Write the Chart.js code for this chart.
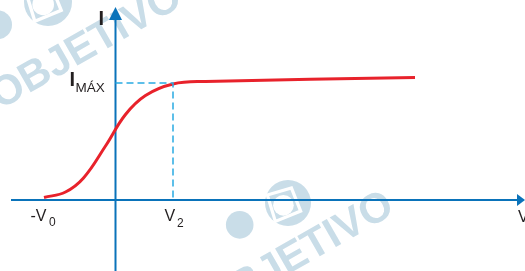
<!DOCTYPE html>
<html>
<head>
<meta charset="utf-8">
<script src="https://cdn.jsdelivr.net/npm/chart.js@4.4.1/dist/chart.umd.min.js"></script>
<style>
  html, body { margin: 0; padding: 0; background: #fff; }
  #wrap { width: 525px; height: 271px; }
</style>
</head>
<body>
<div id="wrap"><canvas id="chart" width="525" height="271"></canvas></div>
<script>
// curve (V, I)
const voltage = [-7.15, -5.0, -3.2, -1.0, 1.0, 3.0, 5.75, 9.0, 29.95];
const current = [0.25, 0.8, 2.2, 5.4, 8.55, 10.45, 11.6, 11.85, 12.25];

// marked values
const V0 = -7.25;
const V2 = 5.75;
const IMAX = 11.7;

// axis ranges
const xRange = [-11.55, 40.95];
const yRange = [-7.1, 20];

const AXIS_BLUE = '#0a73ba';
const DASH_BLUE = '#29abe2';
const MARK = '#c9dde8';

const curve = voltage.map((v, i) => ({ x: v, y: current[i] }));
const guide = [{ x: 0, y: IMAX }, { x: V2, y: IMAX }, { x: V2, y: 0 }];

function watermark(ctx, x, y, angle) {
  ctx.save();
  ctx.translate(x, y);
  ctx.rotate(angle);
  ctx.fillStyle = MARK;
  ctx.font = 'bold 42px "Liberation Sans", Arial, sans-serif';
  ctx.textBaseline = 'alphabetic';
  ctx.fillText('OBJETIVO', 0, 0);
  ctx.restore();
}

function logo(ctx, x, y, r) {
  ctx.save();
  ctx.fillStyle = MARK;
  ctx.beginPath();
  ctx.arc(x, y, r, 0, Math.PI * 2);
  ctx.fill();
  ctx.beginPath();
  ctx.arc(x - r * 2.1, y + r * 0.95, r * 0.6, 0, Math.PI * 2);
  ctx.fill();
  ctx.strokeStyle = '#fff';
  ctx.lineWidth = r * 0.14;
  ctx.beginPath();
  ctx.moveTo(x - r * 0.9, y - r * 0.35);
  ctx.lineTo(x + r * 0.15, y - r * 0.65);
  ctx.lineTo(x + r * 0.55, y + r * 0.35);
  ctx.lineTo(x - r * 0.55, y + r * 0.8);
  ctx.closePath();
  ctx.stroke();
  ctx.fillStyle = '#fff';
  ctx.beginPath();
  ctx.arc(x - r * 0.2, y + r * 0.1, r * 0.45, 0, Math.PI * 2);
  ctx.fill();
  ctx.restore();
}

const decor = {
  id: 'decor',
  beforeDatasetsDraw(chart) {
    const ctx = chart.ctx;
    const xs = chart.scales.x, ys = chart.scales.y;
    const x0 = xs.getPixelForValue(0);
    const y0 = ys.getPixelForValue(0);
    const area = chart.chartArea;

    // watermarks
    logo(ctx, 48, 2, 24);
    watermark(ctx, 0, 110, -0.52);
    logo(ctx, 288, 203, 23);
    watermark(ctx, 212, 318, -0.52);

    // axes
    ctx.save();
    ctx.strokeStyle = AXIS_BLUE;
    ctx.fillStyle = AXIS_BLUE;
    ctx.lineWidth = 2;
    ctx.beginPath();
    ctx.moveTo(11, y0);
    ctx.lineTo(area.right - 6, y0);
    ctx.moveTo(x0, area.bottom);
    ctx.lineTo(x0, 18);
    ctx.stroke();
    // arrow heads
    ctx.beginPath();
    ctx.moveTo(area.right, y0);
    ctx.lineTo(area.right - 8, y0 - 6);
    ctx.lineTo(area.right - 8, y0 + 6);
    ctx.closePath();
    ctx.fill();
    ctx.beginPath();
    ctx.moveTo(x0, 7);
    ctx.lineTo(x0 - 6.5, 20);
    ctx.lineTo(x0 + 6.5, 20);
    ctx.closePath();
    ctx.fill();
    ctx.restore();
  },
  afterDraw(chart) {
    const ctx = chart.ctx;
    const xs = chart.scales.x, ys = chart.scales.y;
    const x0 = xs.getPixelForValue(0);
    const y0 = ys.getPixelForValue(0);
    const yMax = ys.getPixelForValue(IMAX);
    const xv0 = xs.getPixelForValue(V0);
    const xv2 = xs.getPixelForValue(V2);
    const big = '16px "Liberation Sans", Arial, sans-serif';
    const sub = '12px "Liberation Sans", Arial, sans-serif';

    ctx.save();
    ctx.fillStyle = '#231f20';
    ctx.textBaseline = 'alphabetic';
    ctx.textAlign = 'left';

    // axis names
    ctx.font = 'bold 20px "Liberation Sans", Arial, sans-serif';
    ctx.fillText('I', x0 - 17, 25);
    ctx.font = big;
    ctx.fillText('V', chart.chartArea.right - 7, y0 + 22);

    // I_MÁX
    ctx.font = 'bold 20px "Liberation Sans", Arial, sans-serif';
    ctx.fillText('I', x0 - 46, yMax + 3);
    ctx.font = '13.5px "Liberation Sans", Arial, sans-serif';
    ctx.fillText('MÁX', x0 - 40, yMax + 9);

    // -V0
    ctx.font = big;
    ctx.fillText('-V', xv0 - 12.5, y0 + 21);
    ctx.font = sub;
    ctx.fillText('0', xv0 + 6, y0 + 26);

    // V2
    ctx.font = big;
    ctx.fillText('V', xv2 - 8.5, y0 + 21);
    ctx.font = sub;
    ctx.fillText('2', xv2 + 4, y0 + 27);
    ctx.restore();
  }
};

new Chart(document.getElementById('chart'), {
  type: 'scatter',
  data: {
    datasets: [
      {
        data: guide,
        showLine: true,
        borderColor: DASH_BLUE,
        borderWidth: 1.5,
        borderDash: [7, 4],
        pointRadius: 0,
        tension: 0
      },
      {
        data: curve,
        showLine: true,
        borderColor: '#e8222b',
        borderWidth: 3,
        pointRadius: 0,
        tension: 0.4
      }
    ]
  },
  options: {
    responsive: false,
    animation: false,
    layout: { padding: 0 },
    plugins: { legend: { display: false }, tooltip: { enabled: false } },
    scales: {
      x: { type: 'linear', min: xRange[0], max: xRange[1], display: false },
      y: { type: 'linear', min: yRange[0], max: yRange[1], display: false }
    }
  },
  plugins: [decor]
});
</script>
</body>
</html>
